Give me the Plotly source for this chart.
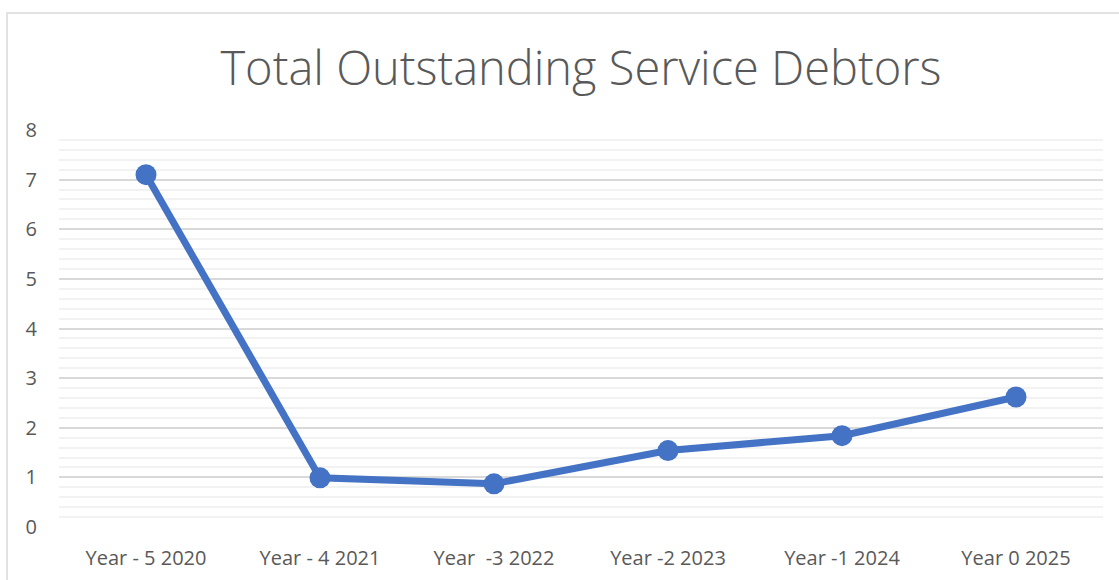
import plotly.graph_objects as go

# Outstanding service debtors by year
categories = ["Year - 5 2020", "Year - 4 2021", "Year  -3 2022",
              "Year -2 2023", "Year -1 2024", "Year 0 2025"]
debtors = [7.1, 0.99, 0.87, 1.54, 1.84, 2.62]
y_ticks = [0, 1, 2, 3, 4, 5, 6, 7, 8]

W, H = 1119, 580
ML, MR, MT, MB = 59, 16, 130, 53

fig = go.Figure()
fig.add_trace(go.Scatter(
    x=categories, y=debtors, mode="lines+markers",
    line=dict(color="#4472C4", width=7),
    marker=dict(color="#4472C4", size=21),
    cliponaxis=False, hoverinfo="x+y",
))

# Outer chart border (extends past the right and bottom edges of the page)
pw, ph = W - ML - MR, H - MT - MB
x0 = (7 - ML) / pw
y1 = (H - 13 - MB) / ph
fig.add_shape(type="path", xref="paper", yref="paper",
              path=f"M {x0} -0.5 L {x0} {y1} L 1.2 {y1}",
              line=dict(color="#D9D9D9", width=1.5), layer="below")

fig.update_layout(
    width=W, height=H,
    margin=dict(l=ML, r=MR, t=MT, b=MB, autoexpand=False),
    paper_bgcolor="white", plot_bgcolor="white",
    showlegend=False,
    title=dict(text="Total Outstanding Service Debtors",
               x=0.5, xref="paper", xanchor="center",
               y=1 - 69 / H, yref="container", yanchor="middle",
               font=dict(family="Open Sans", size=47, color="#595959", weight=300)),
    font=dict(family="Open Sans", color="#595959"),
    xaxis=dict(type="category", range=[-0.5, 5.5], showgrid=False,
               showline=False, zeroline=False, ticks="", automargin=False,
               tickfont=dict(size=20, color="#595959"), ticklabelstandoff=17),
    yaxis=dict(range=[0, 8], tickvals=y_ticks, showgrid=True,
               gridcolor="#D9D9D9", gridwidth=1.5, zeroline=False,
               showline=False, ticks="", automargin=False,
               tickfont=dict(size=20, color="#595959"), ticklabelstandoff=21,
               minor=dict(dtick=0.2, showgrid=True, gridcolor="#F2F2F2", gridwidth=1.5)),
)

fig.write_html("out.html")
